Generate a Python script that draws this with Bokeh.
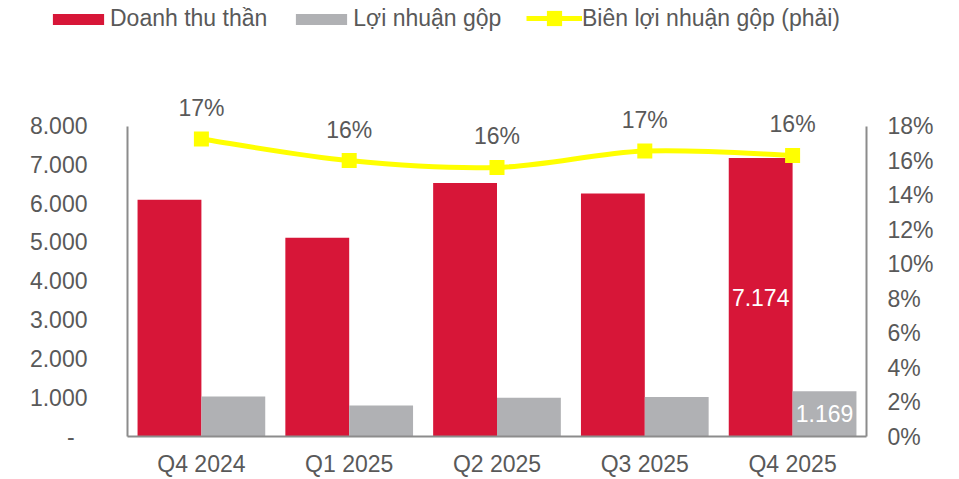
from bokeh.plotting import figure
from bokeh.models import (FactorRange, Range1d, LinearAxis, FixedTicker, Legend, LegendItem,
                          ColumnDataSource)
from bokeh.transform import dodge
from bokeh.core.properties import value
from bokeh.embed import file_html
from bokeh.resources import INLINE

# ---- data ----
quarters = ["Q4 2024", "Q1 2025", "Q2 2025", "Q3 2025", "Q4 2025"]
revenue = [6100, 5120, 6530, 6260, 7174]          # Doanh thu thần
gross_profit = [1030, 800, 1000, 1020, 1169]      # Lợi nhuận gộp
gross_margin = [17.25, 16.0, 15.6, 16.55, 16.3]   # Biên lợi nhuận gộp (%)
labelled = [False, False, False, False, True]     # bars with value labels
left_ticks = [0, 1000, 2000, 3000, 4000, 5000, 6000, 7000, 8000]
right_ticks = [0, 2, 4, 6, 8, 10, 12, 14, 16, 18]
series_names = ["Doanh thu thần", "Lợi nhuận gộp", "Biên lợi nhuận gộp (phải)"]

# ---- style ----
FONT = "Liberation Sans"
FS = "23px"
RED = "#D71638"
GRAY = "#B0B1B4"
YELLOW = "#FFFF00"
TXT = "#595959"
AXIS = "#8C8C8C"

W = 959
LEG_H = 40
MAIN_H = 439
BORDER_B = 41
LEFT_MAX = left_ticks[-1]
RIGHT_MAX = right_ticks[-1]
HEAD = (MAIN_H - BORDER_B) / 312.0   # frame height over axis length


def vn(v):
    return f"{v:,}".replace(",", ".")


src = ColumnDataSource(dict(
    q=quarters, rev=revenue, gp=gross_profit, gm=gross_margin,
    gm_txt=[f"{round(v)}%" for v in gross_margin],
))

lab_idx = [i for i, f in enumerate(labelled) if f]
lab_src = ColumnDataSource(dict(
    q=[quarters[i] for i in lab_idx],
    rev_mid=[revenue[i] / 2 for i in lab_idx],
    gp_mid=[gross_profit[i] / 2 for i in lab_idx],
    rev_txt=[vn(revenue[i]) for i in lab_idx],
    gp_txt=[vn(gross_profit[i]) for i in lab_idx],
))

# ================= main chart =================
p = figure(width=W, height=MAIN_H,
           x_range=FactorRange(*quarters, range_padding=0),
           y_range=Range1d(0, LEFT_MAX * HEAD),
           output_backend="svg", toolbar_location=None,
           min_border_left=127, min_border_right=93,
           min_border_top=0, min_border_bottom=BORDER_B)
p.outline_line_color = None
p.xgrid.grid_line_color = None
p.ygrid.grid_line_color = None

p.extra_y_ranges = {"pct": Range1d(0, RIGHT_MAX * HEAD)}

ya = p.yaxis[0]
ya.bounds = (0, LEFT_MAX)
ya.ticker = FixedTicker(ticks=left_ticks)
ya.major_label_overrides = {t: (vn(t) if t else "-\u00a0\u00a0") for t in left_ticks}
ra = LinearAxis(y_range_name="pct", bounds=(0, RIGHT_MAX),
                ticker=FixedTicker(ticks=right_ticks))
ra.major_label_overrides = {t: f"{t}%" for t in right_ticks}
p.add_layout(ra, "right")
xa = p.xaxis[0]

for ax in (ya, ra, xa):
    ax.axis_line_color = AXIS
    ax.axis_line_width = 2
    ax.major_tick_line_color = None
    ax.minor_tick_line_color = None
    ax.major_tick_out = 0
    ax.major_tick_in = 0
    ax.major_label_text_font = FONT
    ax.major_label_text_font_size = FS
    ax.major_label_text_color = TXT
ya.major_label_standoff = 40
ra.major_label_standoff = 21
xa.major_label_standoff = 14

BW = 0.432
p.vbar(x=dodge("q", -BW / 2, range=p.x_range), top="rev", width=BW,
       source=src, fill_color=RED, line_color=None)
p.vbar(x=dodge("q", BW / 2, range=p.x_range), top="gp", width=BW,
       source=src, fill_color=GRAY, line_color=None)

# smoothed margin line (Catmull-Rom -> cubic Bezier through the data points)
n = len(gross_margin)
xs = [i + 0.5 for i in range(n)]
ys = gross_margin
bx0, by0, bx1, by1, c0x, c0y, c1x, c1y = ([] for _ in range(8))
for i in range(n - 1):
    im1 = max(i - 1, 0)
    ip2 = min(i + 2, n - 1)
    bx0.append(xs[i]); by0.append(ys[i])
    bx1.append(xs[i + 1]); by1.append(ys[i + 1])
    c0x.append(xs[i] + (xs[i + 1] - xs[im1]) / 6.0)
    c0y.append(ys[i] + (ys[i + 1] - ys[im1]) / 6.0)
    c1x.append(xs[i + 1] - (xs[ip2] - xs[i]) / 6.0)
    c1y.append(ys[i + 1] - (ys[ip2] - ys[i]) / 6.0)
p.bezier(x0=bx0, y0=by0, x1=bx1, y1=by1, cx0=c0x, cy0=c0y, cx1=c1x, cy1=c1y,
         y_range_name="pct", line_color=YELLOW, line_width=5)
p.scatter(x="q", y="gm", source=src, y_range_name="pct", marker="square",
          size=15, fill_color=YELLOW, line_color=None)

p.text(x="q", y="gm", text="gm_txt", source=src, y_range_name="pct",
       y_offset=-31, text_align="center", text_baseline="middle",
       text_font=value(FONT), text_font_size=FS, text_color=TXT)

p.text(x=dodge("q", -BW / 2, range=p.x_range), y="rev_mid", text="rev_txt",
       source=lab_src, text_align="center", text_baseline="middle",
       text_font=value(FONT), text_font_size=FS, text_color="white")
p.text(x=dodge("q", BW / 2, range=p.x_range), y="gp_mid", text="gp_txt",
       source=lab_src, text_align="center", text_baseline="middle",
       text_font=value(FONT), text_font_size=FS, text_color="white")

# ================= legend strip (separate root, own full-width frame) =================
# its y range lies far above every value, so the key renderers draw nothing visible
lg = figure(width=W, height=LEG_H,
            x_range=FactorRange(*quarters, range_padding=0),
            y_range=Range1d(LEFT_MAX * 100, LEFT_MAX * 100 + 1),
            output_backend="svg", toolbar_location=None,
            x_axis_location=None, y_axis_location=None,
            min_border_left=0, min_border_right=0, min_border_top=0, min_border_bottom=0)
lg.outline_line_color = None
lg.xgrid.grid_line_color = None
lg.ygrid.grid_line_color = None

k_rev = lg.vbar(x="q", top="rev", width=BW, source=src, fill_color=RED, line_color=None)
k_gp = lg.vbar(x="q", top="gp", width=BW, source=src, fill_color=GRAY, line_color=None)
k_ln = lg.line(x="q", y="gm", source=src, line_color=YELLOW, line_width=5)
k_mk = lg.scatter(x="q", y="gm", source=src, marker="square", size=15,
                  fill_color=YELLOW, line_color=None)


def style_legend(leg):
    leg.orientation = "horizontal"
    leg.padding = 0
    leg.margin = 0
    leg.border_line_color = None
    leg.background_fill_alpha = 0
    leg.label_text_font = FONT
    leg.label_text_font_size = FS
    leg.label_text_color = TXT
    leg.label_standoff = 0
    leg.spacing = 22


leg1 = Legend(items=[LegendItem(label=series_names[0], renderers=[k_rev]),
                     LegendItem(label=series_names[1], renderers=[k_gp])],
              location=(46, 8), glyph_width=64, glyph_height=14)
style_legend(leg1)
leg2 = Legend(items=[LegendItem(label=series_names[2], renderers=[k_ln, k_mk])],
              location=(526, 3), glyph_width=56, glyph_height=38)
style_legend(leg2)
lg.add_layout(leg1)
lg.add_layout(leg2)

open("out.html", "w").write(file_html([lg, p], INLINE))
